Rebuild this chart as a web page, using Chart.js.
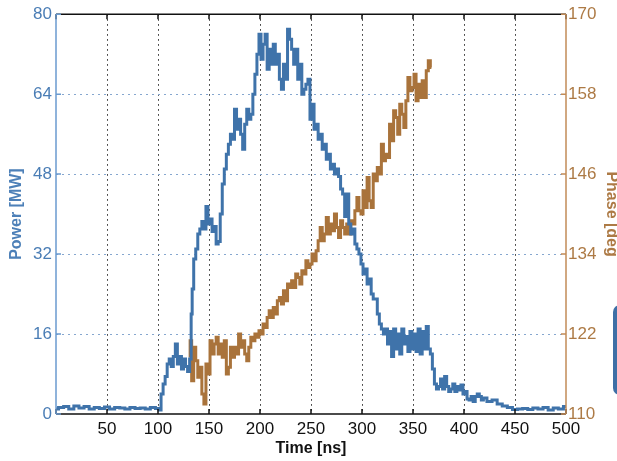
<!DOCTYPE html>
<html lang="en">
<head>
    <meta charset="UTF-8">
    <title>Power and Phase</title>
    <style>
        body {
            margin: 0;
            background-color: #ffffff;
        }

        #chart {
            display: block;
        }
    </style>
</head>
<body>
    <canvas id="chart" width="617" height="461"></canvas>

    <script src="https://cdn.jsdelivr.net/npm/chart.js"></script>
    <script>
        // tick labels
        const timeTicks = [0, 50, 100, 150, 200, 250, 300, 350, 400, 450, 500];
        const powerTicks = [0, 16, 32, 48, 64, 80];
        const phaseTicks = [110, 122, 134, 146, 158, 170];

        // power trace
        const powerTime = [0, 5, 10, 15, 20, 25, 30, 35, 40, 45, 50, 55, 60, 65, 70, 75, 80, 85, 90, 95, 100, 102,
            104, 106, 108, 110, 112, 114, 116, 118, 120, 122, 124, 126, 128, 130, 132,
            133, 134, 136, 138, 140, 142, 144, 146, 148, 150, 152, 154, 156, 158, 160, 162, 164, 166, 168, 170,
            172, 174, 176, 178, 180, 182, 184, 186, 188, 190, 192, 194, 196, 198, 200, 202, 204, 206, 208, 210,
            212, 214, 216, 218, 220, 222, 224, 226, 228, 230, 232, 234, 236, 238, 240, 242, 244, 246, 248, 250,
            252, 254, 256, 258, 260, 262, 264, 266, 268, 270, 272, 274, 276, 278, 280, 282, 284, 286, 288, 290,
            292, 294, 296, 298, 300, 302, 304, 306, 308, 310, 312, 314, 316, 318, 320, 322, 324, 326, 328, 330,
            332, 334, 336, 338, 340, 342, 344, 346, 348, 350, 352, 354, 356, 358, 360, 362, 364, 366, 368, 370,
            372, 374, 376, 378, 380, 382, 384, 386, 388, 390, 392, 394, 396, 398, 400, 402, 404, 406, 408, 410,
            412, 414, 416, 418, 420, 425, 430, 435, 440, 445, 450, 455, 460, 465, 470, 475, 480, 485, 490, 495, 500];
        const power = [1.0, 1.3, 1.5, 1.0, 1.6, 1.2, 1.5, 1.0, 1.3, 1.1, 1.4, 1.0, 1.3, 1.2, 1.0, 1.3, 1.1, 1.2, 1.0, 1.3, 1.1, 0.8,
            4, 6, 7.5, 10, 11, 9.5, 11.5, 14, 10, 11.5, 9, 11, 9.5, 8.5, 11,
            20, 25, 31, 33, 36, 37, 38.5, 37, 41.5, 38, 39, 36.5, 37.5, 34, 34.5, 40, 46, 49, 52, 54,
            56, 55, 61, 57, 59, 56, 53, 58, 61, 59, 60, 64, 68, 72, 76, 71, 74, 76, 69, 73,
            70, 74, 70, 72, 67, 65, 70, 67, 77, 75, 73, 70, 73, 67, 70, 64, 65, 66, 67, 59,
            62, 57, 58, 55, 56, 53, 54, 51, 52, 49, 50, 48, 49, 47.5, 45, 44, 39.5, 44, 38, 36,
            37, 34, 33, 32, 30, 28, 29, 26, 27, 24, 23, 23, 20, 18, 17, 16, 17, 14, 16.5, 11.5,
            17, 13, 16, 12, 17, 14, 15.5, 12.5, 16.5, 13, 16, 12.5, 17, 12, 16.5, 13, 17.5, 13, 12, 9,
            6, 5, 5.5, 7, 5, 7.5, 5.5, 4.5, 5, 6, 4.5, 5.5, 4.8, 5.8, 4, 4.5, 3, 2.8, 3.5, 2.5,
            3.5, 4, 3.5, 2.8, 3.2, 2.5, 2.8, 2, 1.6, 1.3, 0.9, 1.0, 1.1, 0.9, 1.2, 1.0, 1.3, 0.8, 1.2, 1.0, 1.5];

        // phase trace
        const phaseTime = [131, 132, 134, 136, 138, 140, 142, 144, 146, 148, 150, 152, 154, 156, 158, 160,
            162, 164, 166, 168, 170, 172, 174, 176, 178, 180, 182, 184, 186, 188, 190, 192, 194, 196, 198, 200,
            202, 204, 206, 208, 210, 212, 214, 216, 218, 220, 222, 224, 226, 228, 230, 232, 234, 236, 238, 240,
            242, 244, 246, 248, 250, 252, 254, 256, 258, 260, 262, 264, 266, 268, 270, 272, 274, 276, 278, 280,
            282, 284, 286, 288, 290, 292, 294, 296, 298, 300, 302, 304, 306, 308, 310, 312, 314, 316, 318, 320,
            322, 324, 326, 328, 330, 332, 334, 336, 338, 340, 342, 344, 346, 348, 350, 352, 354, 356, 358, 360,
            362, 364, 366, 368];
        const phase = [118.5, 121, 115, 120, 118, 115.5, 117, 113, 111.5, 117.5, 116, 121, 119, 120.5, 121.5, 119,
            120.5, 118.5, 121, 116, 117, 120, 118.5, 120, 119, 122, 120, 121, 119, 118, 120, 121.5, 121, 122, 121.5, 122.5,
            122, 123.5, 123, 124.5, 125.5, 124.5, 126, 125, 127, 127.5, 126.5, 128.5, 127, 129.5, 129, 130, 129, 131, 130.5, 129.5,
            131.5, 131, 133, 132, 132.5, 134, 133, 134.5, 136, 138, 136, 137, 139.5, 137, 138.5, 137.5, 140, 138, 136.5, 139,
            138, 137, 138.5, 137, 139, 138.5, 140.5, 142.5, 140.5, 140, 143.5, 141, 145.5, 142, 141, 146, 145, 147, 146, 150.5,
            148, 149, 148.5, 153.5, 151, 155.5, 154.5, 152, 156.5, 155, 153, 157, 160.5, 158.5, 159, 161, 157, 159.5, 157.5, 160,
            157.5, 161.5, 163, 162];

        const blue = '#3f73aa';
        const brown = '#a9733b';
        const font = "'Liberation Sans', Arial, sans-serif";

        function useTicks(list) {
            return function (scale) {
                scale.ticks = list.map(v => ({ value: v }));
            };
        }

        // dotted grid, axis lines with inward ticks, titles
        const framePlugin = {
            id: 'frame',
            beforeDatasetsDraw(chart) {
                const ctx = chart.ctx;
                const a = chart.chartArea;
                const x = chart.scales.x;
                const y = chart.scales.y;
                ctx.save();
                ctx.lineWidth = 1;
                ctx.setLineDash([1.5, 3.5]);
                ctx.strokeStyle = '#222222';
                timeTicks.slice(1, -1).forEach(t => {
                    const px = Math.round(x.getPixelForValue(t)) + 0.5;
                    ctx.beginPath();
                    ctx.moveTo(px, a.top);
                    ctx.lineTo(px, a.bottom);
                    ctx.stroke();
                });
                ctx.setLineDash([2, 4]);
                ctx.strokeStyle = '#86a7cf';
                powerTicks.slice(1, -1).forEach(p => {
                    const py = Math.round(y.getPixelForValue(p)) + 0.5;
                    ctx.beginPath();
                    ctx.moveTo(a.left, py);
                    ctx.lineTo(a.right, py);
                    ctx.stroke();
                });
                ctx.restore();
            },
            afterDatasetsDraw(chart) {
                const ctx = chart.ctx;
                const a = chart.chartArea;
                const x = chart.scales.x;
                const y = chart.scales.y;
                const y2 = chart.scales.y2;
                ctx.save();
                ctx.lineWidth = 1.5;
                ctx.setLineDash([]);
                // top and bottom
                ctx.strokeStyle = '#111111';
                ctx.beginPath();
                ctx.moveTo(a.left, a.top);
                ctx.lineTo(a.right, a.top);
                ctx.moveTo(a.left, a.bottom);
                ctx.lineTo(a.right, a.bottom);
                timeTicks.forEach(t => {
                    const px = x.getPixelForValue(t);
                    ctx.moveTo(px, a.bottom);
                    ctx.lineTo(px, a.bottom - 5);
                    ctx.moveTo(px, a.top);
                    ctx.lineTo(px, a.top + 5);
                });
                ctx.stroke();
                // left axis
                ctx.strokeStyle = '#6b9bd0';
                ctx.beginPath();
                ctx.moveTo(a.left, a.top);
                ctx.lineTo(a.left, a.bottom);
                powerTicks.forEach(p => {
                    const py = y.getPixelForValue(p);
                    ctx.moveTo(a.left, py);
                    ctx.lineTo(a.left + 5, py);
                });
                ctx.stroke();
                // right axis
                ctx.strokeStyle = '#c28c58';
                ctx.beginPath();
                ctx.moveTo(a.right, a.top);
                ctx.lineTo(a.right, a.bottom);
                phaseTicks.forEach(p => {
                    const py = y2.getPixelForValue(p);
                    ctx.moveTo(a.right, py);
                    ctx.lineTo(a.right - 5, py);
                });
                ctx.stroke();
                ctx.restore();
            },
            afterDraw(chart) {
                const ctx = chart.ctx;
                const a = chart.chartArea;
                const mid = (a.top + a.bottom) / 2;
                ctx.save();
                ctx.font = 'bold 16px ' + font;
                ctx.textAlign = 'center';
                ctx.textBaseline = 'middle';

                ctx.fillStyle = '#111111';
                ctx.fillText('Time [ns]', (a.left + a.right) / 2, 449);

                ctx.save();
                ctx.translate(17, mid);
                ctx.rotate(-Math.PI / 2);
                ctx.fillStyle = '#4d80b8';
                ctx.fillText('Power [MW]', 0, 0);
                ctx.restore();

                ctx.save();
                ctx.translate(611, mid);
                ctx.rotate(Math.PI / 2);
                ctx.fillStyle = '#ad7a45';
                ctx.fillText('Phase [deg', 0, 0);
                ctx.restore();

                // cut-off blue shape at right edge
                ctx.fillStyle = '#3e6fa6';
                ctx.beginPath();
                ctx.roundRect(613, 305, 20, 90, 7);
                ctx.fill();
                ctx.restore();
            }
        };

        const ctx = document.getElementById('chart').getContext('2d');
        const myChart = new Chart(ctx, {
            type: 'line',
            data: {
                datasets: [{
                    label: 'Power',
                    data: powerTime.map((t, i) => ({ x: t, y: power[i] })),
                    borderColor: blue,
                    borderWidth: 3,
                    pointRadius: 0,
                    stepped: 'middle',
                    yAxisID: 'y',
                    order: 0
                }, {
                    label: 'Phase',
                    data: phaseTime.map((t, i) => ({ x: t, y: phase[i] })),
                    borderColor: brown,
                    borderWidth: 3,
                    pointRadius: 0,
                    stepped: 'middle',
                    yAxisID: 'y2',
                    order: 1
                }]
            },
            options: {
                responsive: false,
                animation: false,
                devicePixelRatio: 1,
                layout: { padding: { top: 14, left: 0, right: 0, bottom: 0 } },
                plugins: {
                    legend: { display: false },
                    tooltip: { enabled: false }
                },
                scales: {
                    x: {
                        type: 'linear',
                        min: 0,
                        max: 500,
                        afterBuildTicks: useTicks(timeTicks),
                        afterFit: s => { s.height = 47; },
                        grid: { display: false, drawTicks: false },
                        border: { display: false },
                        ticks: {
                            padding: 5,
                            maxRotation: 0,
                            autoSkip: false,
                            color: '#111111',
                            font: { family: font, size: 17 },
                            callback: v => (v === 0 ? '' : v)
                        }
                    },
                    y: {
                        position: 'left',
                        min: 0,
                        max: 80,
                        afterBuildTicks: useTicks(powerTicks),
                        afterFit: s => { s.width = 56; },
                        grid: { display: false, drawTicks: false },
                        border: { display: false },
                        ticks: {
                            padding: 4,
                            autoSkip: false,
                            color: '#4a7db5',
                            font: { family: font, size: 17 }
                        }
                    },
                    y2: {
                        position: 'right',
                        min: 110,
                        max: 170,
                        afterBuildTicks: useTicks(phaseTicks),
                        afterFit: s => { s.width = 51; },
                        grid: { display: false, drawTicks: false },
                        border: { display: false },
                        ticks: {
                            padding: 2,
                            autoSkip: false,
                            color: '#ad7a45',
                            font: { family: font, size: 17 }
                        }
                    }
                }
            },
            plugins: [framePlugin]
        });
    </script>
</body>
</html>
